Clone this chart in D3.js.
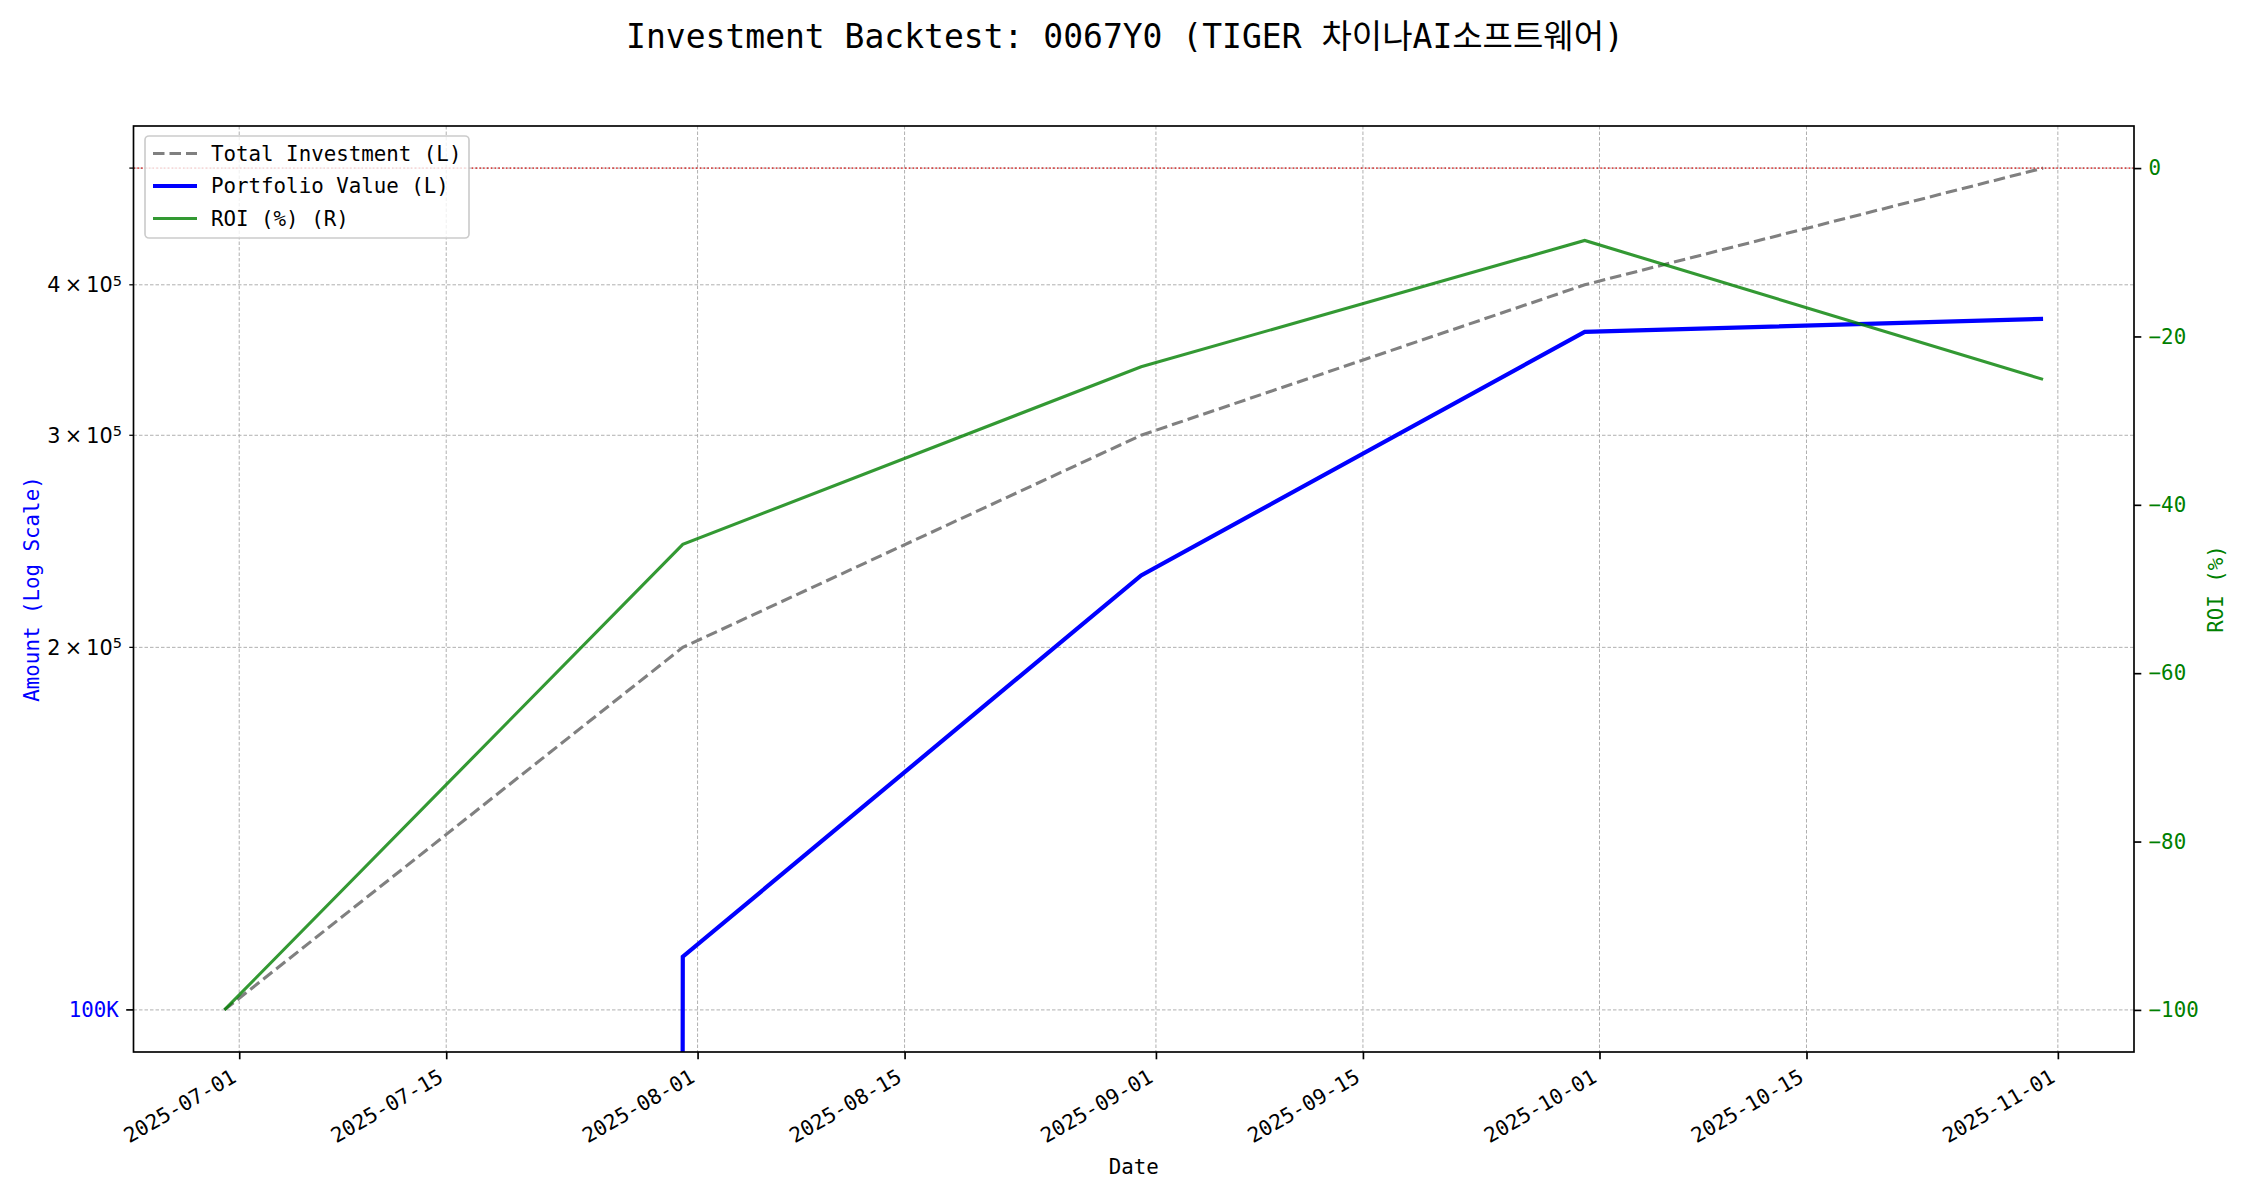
<!DOCTYPE html>
<html>
<head>
<meta charset="utf-8">
<script src="https://cdn.jsdelivr.net/npm/d3@7"></script>
<style>
  html, body { margin: 0; padding: 0; background: #ffffff; }
  svg { display: block; }
  text { font-family: "DejaVu Sans Mono", "Noto Sans CJK KR", monospace; }
</style>
</head>
<body>
<script>
// ---------------- data ----------------
const chartTitle = "Investment Backtest: 0067Y0 (TIGER 차이나AI소프트웨어)";
const dates = ["2025-06-30", "2025-07-31", "2025-08-31", "2025-09-30", "2025-10-31"];
const totalInvestment = [100000, 200000, 300000, 400000, 500000];
const portfolioValue = [0, 110700, 229500, 365600, 374800];
const roiPct = [-100, -44.7, -23.6, -8.6, -25.1];

const xTickDates = ["2025-07-01", "2025-07-15", "2025-08-01", "2025-08-15", "2025-09-01",
                    "2025-09-15", "2025-10-01", "2025-10-15", "2025-11-01"];
const leftTickValues = [100000, 200000, 300000, 400000, 500000];
const leftTickMant = ["100K", "2", "3", "4", ""];   // "100K" major, others mantissa × 10^5
const leftTickMajor = [true, false, false, false, false];
const rightTickValues = [0, -20, -40, -60, -80, -100];
const legendLabels = ["Total Investment (L)", "Portfolio Value (L)", "ROI (%) (R)"];

// ---------------- layout ----------------
const W = 2250, H = 1200;
const margin = {left: 133.5, right: 116, top: 126, bottom: 148};
const pw = W - margin.left - margin.right;
const ph = H - margin.top - margin.bottom;
const FS = 20.8;

const parse = d3.utcParse("%Y-%m-%d");
const xDates = dates.map(parse);

const svg = d3.select("body").append("svg").attr("width", W).attr("height", H);

// x scale with 5% margins (matplotlib style)
const xExt = d3.extent(xDates);
const span = xExt[1] - xExt[0];
const x = d3.scaleUtc()
  .domain([new Date(+xExt[0] - 0.05 * span), new Date(+xExt[1] + 0.05 * span)])
  .range([margin.left, margin.left + pw]);

// left log scale
const lMin = Math.log10(d3.min(totalInvestment)), lMax = Math.log10(d3.max(totalInvestment));
const lPad = 0.05 * (lMax - lMin);
const yL = d3.scaleLog()
  .domain([Math.pow(10, lMin - lPad), Math.pow(10, lMax + lPad)])
  .range([margin.top + ph, margin.top]);

// right linear scale
const rMin = d3.min(roiPct), rMax = 0;
const rPad = 0.05 * (rMax - rMin);
const yR = d3.scaleLinear().domain([rMin - rPad, rMax + rPad]).range([margin.top + ph, margin.top]);

// clip
svg.append("defs").append("clipPath").attr("id", "plotclip")
  .append("rect").attr("x", margin.left).attr("y", margin.top).attr("width", pw).attr("height", ph);

// ---------------- grid ----------------
const grid = svg.append("g").attr("clip-path", "url(#plotclip)");
grid.selectAll("line.vx").data(xTickDates.map(parse)).join("line")
  .attr("x1", d => x(d)).attr("x2", d => x(d))
  .attr("y1", margin.top).attr("y2", margin.top + ph)
  .attr("stroke", "#b0b0b0").attr("stroke-width", 1).attr("stroke-dasharray", "3.5,2");
grid.selectAll("line.hy").data(leftTickValues).join("line")
  .attr("x1", margin.left).attr("x2", margin.left + pw)
  .attr("y1", d => yL(d)).attr("y2", d => yL(d))
  .attr("stroke", "#b0b0b0").attr("stroke-width", 1).attr("stroke-dasharray", "3.5,2");

// ---------------- lines ----------------
const plot = svg.append("g").attr("clip-path", "url(#plotclip)");
const tiny = 1e-300; // matplotlib clips non-positive values on log axes
const lineL = vals => d3.line()
  .x((d, i) => x(xDates[i]))
  .y(d => yL(d > 0 ? d : tiny))(vals);

plot.append("path").attr("d", lineL(totalInvestment))
  .attr("fill", "none").attr("stroke", "#808080").attr("stroke-width", 3.1)
  .attr("stroke-dasharray", "11.5,5");
plot.append("path").attr("d", lineL(portfolioValue))
  .attr("fill", "none").attr("stroke", "#0000ff").attr("stroke-width", 4.2)
  .attr("stroke-linejoin", "miter");

const lineR = d3.line().x((d, i) => x(xDates[i])).y(d => yR(d));
plot.append("path").attr("d", lineR(roiPct))
  .attr("fill", "none").attr("stroke", "#008000").attr("stroke-opacity", 0.8)
  .attr("stroke-width", 3.1);

// zero ROI line
plot.append("line")
  .attr("x1", margin.left).attr("x2", margin.left + pw)
  .attr("y1", yR(0)).attr("y2", yR(0))
  .attr("stroke", "#d62020").attr("stroke-opacity", 0.8).attr("stroke-width", 1.6)
  .attr("stroke-dasharray", "1.6,2.2");

// ---------------- axes ----------------
// frame
svg.append("rect").attr("x", margin.left).attr("y", margin.top).attr("width", pw).attr("height", ph)
  .attr("fill", "none").attr("stroke", "#000").attr("stroke-width", 1.67);

// x axis
const xAxis = d3.axisBottom(x).tickValues(xTickDates.map(parse)).tickSize(7.3).tickPadding(0)
  .tickFormat(d3.utcFormat("%Y-%m-%d"));
const gx = svg.append("g").attr("transform", `translate(0,${margin.top + ph})`).call(xAxis);
gx.select(".domain").remove();
gx.selectAll(".tick line").attr("stroke", "#000").attr("stroke-width", 1.67);
gx.selectAll(".tick text")
  .attr("font-size", FS).attr("fill", "#000")
  .attr("text-anchor", "end")
  .attr("dy", null).attr("y", null)
  .attr("transform", "translate(-2,29) rotate(-30)");

// left axis
const gl = svg.append("g");
const lt = gl.selectAll("g").data(leftTickValues).join("g")
  .attr("transform", d => `translate(${margin.left},${yL(d)})`);
lt.append("line").attr("x1", (d, i) => leftTickMajor[i] ? -7.3 : -4.2).attr("x2", 0)
  .attr("stroke", "#000").attr("stroke-width", (d, i) => leftTickMajor[i] ? 1.67 : 1.25);
lt.each(function(d, i) {
  const g = d3.select(this);
  if (leftTickMant[i] === "") return;
  if (leftTickMajor[i]) {
    g.append("text").attr("x", -7.3 - 7.3).attr("dy", "0.35em").attr("text-anchor", "end")
      .attr("font-size", FS).attr("fill", "#0000ff").text(leftTickMant[i]);
  } else {
    const t = g.append("text").attr("x", -4.2 - 7.3).attr("dy", "0.35em").attr("text-anchor", "end")
      .attr("font-size", FS).attr("fill", "#000")
      .style("font-family", "'DejaVu Sans', sans-serif");
    t.append("tspan").text(leftTickMant[i] + "\u2009\u00D7\u200910");
    t.append("tspan").attr("dy", "-0.45em").attr("font-size", FS * 0.7).text("5");
  }
});

// right axis
const gr = svg.append("g").attr("transform", `translate(${margin.left + pw},0)`)
  .call(d3.axisRight(yR).tickValues(rightTickValues).tickSize(7.3).tickPadding(7.3)
    .tickFormat(d => d < 0 ? "\u2212" + Math.abs(d) : String(d)));
gr.select(".domain").remove();
gr.selectAll(".tick line").attr("stroke", "#000").attr("stroke-width", 1.67);
gr.selectAll(".tick text").attr("font-size", FS).attr("fill", "#008000");

// axis labels
svg.append("text").attr("transform", `translate(32,${margin.top + ph / 2}) rotate(-90)`)
  .attr("text-anchor", "middle").attr("dy", "0.35em").attr("font-size", FS).attr("fill", "#0000ff")
  .text("Amount (Log Scale)");
svg.append("text").attr("transform", `translate(2216,${margin.top + ph / 2}) rotate(-90)`)
  .attr("text-anchor", "middle").attr("dy", "0.35em").attr("font-size", FS).attr("fill", "#008000")
  .text("ROI (%)");
svg.append("text").attr("x", margin.left + pw / 2).attr("y", 1167).attr("dy", "0.35em")
  .attr("text-anchor", "middle").attr("font-size", FS).attr("fill", "#000").text("Date");

// title
svg.append("text").attr("x", W / 2).attr("y", 36).attr("dy", "0.35em")
  .attr("text-anchor", "middle").attr("font-size", 33).attr("fill", "#000").text(chartTitle);

// ---------------- legend ----------------
const lg = svg.append("g").attr("transform", "translate(145,136)");
lg.append("rect").attr("width", 324).attr("height", 102).attr("rx", 4)
  .attr("fill", "#fff").attr("fill-opacity", 0.8).attr("stroke", "#cccccc").attr("stroke-width", 1.67);
const legendStyles = [
  {stroke: "#808080", width: 3.1, dash: "11.5,5", op: 1},
  {stroke: "#0000ff", width: 4.2, dash: null, op: 1},
  {stroke: "#008000", width: 3.1, dash: null, op: 0.8}
];
const le = lg.selectAll("g").data(legendLabels).join("g")
  .attr("transform", (d, i) => `translate(0,${17.5 + i * 32.5})`);
le.append("line").attr("x1", 8).attr("x2", 52)
  .attr("stroke", (d, i) => legendStyles[i].stroke)
  .attr("stroke-width", (d, i) => legendStyles[i].width)
  .attr("stroke-opacity", (d, i) => legendStyles[i].op)
  .attr("stroke-dasharray", (d, i) => legendStyles[i].dash);
le.append("text").attr("x", 66).attr("dy", "0.35em").attr("font-size", FS).attr("fill", "#000").text(d => d);
</script>
</body>
</html>
